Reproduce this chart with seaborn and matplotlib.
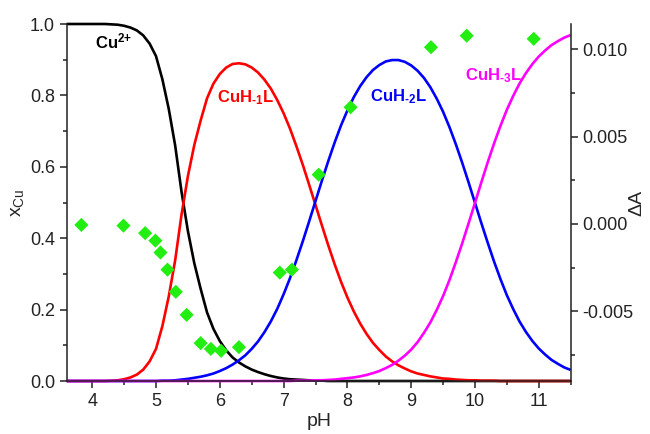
import matplotlib
matplotlib.use("Agg")
import matplotlib.pyplot as plt
from matplotlib.ticker import MultipleLocator, FormatStrFormatter
import pandas as pd
import seaborn as sns

# Species distribution of copper complexes vs pH
ph = [3.6, 3.7, 3.8, 3.9, 4.0, 4.1, 4.2, 4.3, 4.4, 4.5,
      4.6, 4.7, 4.8, 4.9, 5.0, 5.1, 5.2, 5.3, 5.4, 5.5,
      5.6, 5.7, 5.8, 5.9, 6.0, 6.1, 6.2, 6.3, 6.4, 6.5,
      6.6, 6.7, 6.8, 6.9, 7.0, 7.1, 7.2, 7.3, 7.4, 7.5,
      7.6, 7.7, 7.8, 7.9, 8.0, 8.1, 8.2, 8.3, 8.4, 8.5,
      8.6, 8.7, 8.8, 8.9, 9.0, 9.1, 9.2, 9.3, 9.4, 9.5,
      9.6, 9.7, 9.8, 9.9, 10.0, 10.1, 10.2, 10.3, 10.4, 10.5,
      10.6, 10.7, 10.8, 10.9, 11.0, 11.1, 11.2, 11.3, 11.4, 11.5]

cu = [1.000, 1.000, 1.000, 1.000, 1.000, 1.000, 1.000, 0.999, 0.998, 0.995,
      0.990, 0.982, 0.968, 0.945, 0.910, 0.845, 0.762, 0.660, 0.530, 0.420,
      0.330, 0.258, 0.192, 0.146, 0.112, 0.086, 0.066, 0.052, 0.041, 0.032,
      0.025, 0.019, 0.014, 0.010, 0.007, 0.005, 0.004, 0.003, 0.002, 0.001,
      0.001, 0, 0, 0, 0, 0, 0, 0, 0, 0,
      0, 0, 0, 0, 0, 0, 0, 0, 0, 0,
      0, 0, 0, 0, 0, 0, 0, 0, 0, 0,
      0, 0, 0, 0, 0, 0, 0, 0, 0, 0]

cuh1 = [0, 0, 0, 0, 0, 0, 0.000, 0.001, 0.002, 0.005,
        0.010, 0.018, 0.032, 0.055, 0.090, 0.154, 0.237, 0.338, 0.466, 0.574,
        0.661, 0.730, 0.792, 0.833, 0.860, 0.878, 0.888, 0.890, 0.887, 0.878,
        0.864, 0.844, 0.819, 0.787, 0.750, 0.707, 0.658, 0.606, 0.550, 0.493,
        0.436, 0.380, 0.327, 0.278, 0.234, 0.195, 0.161, 0.132, 0.107, 0.087,
        0.069, 0.055, 0.044, 0.035, 0.027, 0.021, 0.017, 0.013, 0.010, 0.007,
        0.006, 0.004, 0.003, 0.002, 0.002, 0.001, 0.001, 0.001, 0, 0,
        0, 0, 0, 0, 0, 0, 0, 0, 0, 0]

cuh2 = [0, 0, 0, 0, 0, 0, 0, 0, 0, 0,
        0, 0, 0, 0, 0.000, 0.001, 0.001, 0.002, 0.004, 0.006,
        0.009, 0.012, 0.016, 0.021, 0.028, 0.036, 0.046, 0.058, 0.072, 0.090,
        0.111, 0.137, 0.167, 0.202, 0.243, 0.288, 0.338, 0.391, 0.447, 0.504,
        0.561, 0.616, 0.668, 0.716, 0.758, 0.795, 0.826, 0.851, 0.871, 0.885,
        0.895, 0.899, 0.899, 0.894, 0.884, 0.869, 0.849, 0.823, 0.791, 0.754,
        0.711, 0.663, 0.611, 0.556, 0.499, 0.442, 0.387, 0.334, 0.285, 0.240,
        0.201, 0.166, 0.137, 0.112, 0.091, 0.074, 0.059, 0.048, 0.038, 0.031]

cuh3 = [0, 0, 0, 0, 0, 0, 0, 0, 0, 0,
        0, 0, 0, 0, 0, 0, 0, 0, 0, 0,
        0, 0, 0, 0, 0, 0, 0, 0, 0, 0,
        0, 0, 0, 0, 0, 0.000, 0.001, 0.001, 0.001, 0.002,
        0.002, 0.003, 0.004, 0.006, 0.008, 0.010, 0.013, 0.017, 0.022, 0.028,
        0.036, 0.045, 0.057, 0.071, 0.088, 0.109, 0.135, 0.164, 0.199, 0.238,
        0.283, 0.333, 0.386, 0.442, 0.499, 0.557, 0.613, 0.666, 0.715, 0.760,
        0.799, 0.834, 0.863, 0.888, 0.909, 0.926, 0.941, 0.952, 0.962, 0.969]

# Measured absorbance change
ph_exp = [3.83, 4.49, 4.83, 4.99, 5.07, 5.18, 5.31, 5.48, 5.70, 5.86,
          6.02, 6.30, 6.94, 7.13, 7.55, 8.05, 9.31, 9.87, 10.92]
delta_a = [-0.00006, -0.00010, -0.00053, -0.00096, -0.00164, -0.00262,
           -0.00389, -0.00521, -0.00683, -0.00716, -0.00727, -0.00706,
           -0.00279, -0.00262, 0.00282, 0.00668, 0.01012, 0.01078, 0.01060]

species = ["Cu", "CuH-1L", "CuH-2L", "CuH-3L"]
colors = {"Cu": "#000000", "CuH-1L": "#ff0000",
          "CuH-2L": "#0000ff", "CuH-3L": "#ff00ff"}

df = pd.DataFrame({
    "pH": ph * 4,
    "x": cu + cuh1 + cuh2 + cuh3,
    "species": sum([[s] * len(ph) for s in species], []),
})

sns.set_theme(style="ticks")
plt.rcParams["font.family"] = ["Liberation Sans", "DejaVu Sans"]
plt.rcParams["mathtext.fontset"] = "custom"
plt.rcParams["mathtext.rm"] = "Liberation Sans"
plt.rcParams["mathtext.it"] = "Liberation Sans:italic"
plt.rcParams["mathtext.bf"] = "Liberation Sans:bold"
plt.rcParams["mathtext.sf"] = "Liberation Sans"
plt.rcParams["axes.unicode_minus"] = False

fig = plt.figure(figsize=(6.5, 4.34), dpi=100)
ax = fig.add_axes([0.1026, 0.1221, 0.7754, 0.8226])

sns.lineplot(data=df, x="pH", y="x", hue="species", hue_order=species,
             palette=colors, linewidth=1.9, legend=False, sort=False,
             estimator=None, ax=ax)
for ln in ax.lines:
    ln.set_clip_on(False)
    ln.set_solid_capstyle("butt")

ax.set_xlim(3.6, 11.5)
ax.set_ylim(0, 1.0)
ax.xaxis.set_major_locator(MultipleLocator(1))
ax.xaxis.set_minor_locator(MultipleLocator(0.5))
ax.yaxis.set_major_locator(MultipleLocator(0.2))
ax.yaxis.set_minor_locator(MultipleLocator(0.1))
ax.yaxis.set_major_formatter(FormatStrFormatter("%.1f"))

ax2 = ax.twinx()
sns.scatterplot(x=ph_exp, y=delta_a, ax=ax2, marker="D", s=52,
                color="#22ee11", edgecolor="none", linewidth=0, zorder=5)
ax2.set_ylim(-0.0090, 0.01145)
ax2.yaxis.set_major_locator(MultipleLocator(0.005))
ax2.yaxis.set_minor_locator(MultipleLocator(0.0025))
ax2.yaxis.set_major_formatter(FormatStrFormatter("%.3f"))

for a in (ax, ax2):
    a.spines["top"].set_visible(False)
    for sp in a.spines.values():
        sp.set_linewidth(1.1)
        sp.set_color("#222222")
    a.tick_params(which="major", direction="out", length=5, width=1.1,
                  labelsize=13, colors="#222222", labelcolor="#222222")
    a.tick_params(which="minor", direction="out", length=3, width=1.1,
                  colors="#222222")
ax.spines["right"].set_visible(False)
ax2.spines["left"].set_visible(False)
ax2.spines["bottom"].set_visible(False)

ax.set_xlabel("pH", fontsize=14, labelpad=2)
ax.set_ylabel(r"x$_{\mathrm{Cu}}$", fontsize=14, labelpad=3)
ax2.set_ylabel("ΔA", fontsize=14, rotation=90, labelpad=-4)

lab_kw = dict(fontsize=12, ha="left", va="baseline")
ax.text(4.05, 0.932, r"$\mathbf{Cu^{2{+}}}$", color="#000000", **lab_kw)
ax.text(5.96, 0.782, "$\\mathbf{CuH_{\u20101}L}$", color="#ff0000", **lab_kw)
ax.text(8.36, 0.784, "$\\mathbf{CuH_{\u20102}L}$", color="#0000ff", **lab_kw)
ax.text(9.84, 0.841, "$\\mathbf{CuH_{\u20103}L}$", color="#ff00ff", **lab_kw)

fig.savefig("out.png", dpi=100)
